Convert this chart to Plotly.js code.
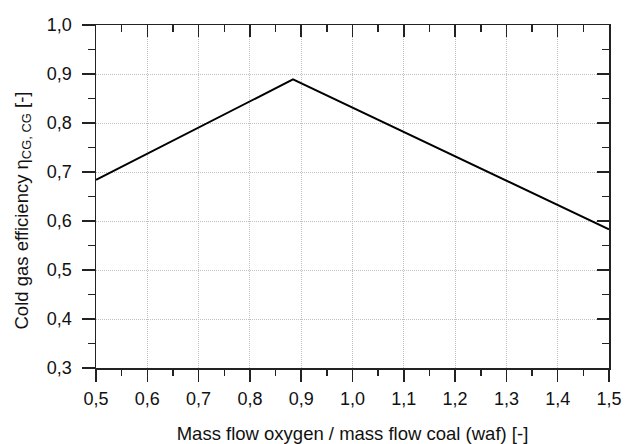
<!DOCTYPE html>
<html>
<head>
<meta charset="utf-8">
<script src="https://cdn.plot.ly/plotly-3.0.1.min.js"></script>
<style>html,body{margin:0;padding:0;background:#fff}#chart{width:625px;height:444px}</style>
</head>
<body>
<div id="chart"></div>
<script>
const massFlowRatio = [0.5, 0.884, 1.5];
const coldGasEfficiency = [0.684, 0.889, 0.583];
const xTickValues = [0.5, 0.6, 0.7, 0.8, 0.9, 1.0, 1.1, 1.2, 1.3, 1.4, 1.5];
const yTickValues = [0.3, 0.4, 0.5, 0.6, 0.7, 0.8, 0.9, 1.0];
const xTitle = 'Mass flow oxygen / mass flow coal (waf) [-]';
const yTitle = 'Cold gas efficiency η<sub>CG, CG</sub> [-]';

const FONT = 'Liberation Sans, Arial, sans-serif';
const AX = '#222';

const traces = [
  {x: massFlowRatio, y: coldGasEfficiency, mode: 'lines', type: 'scatter',
   line: {color: '#000', width: 2}, hoverinfo: 'skip', xaxis: 'x', yaxis: 'y'},
  {x: massFlowRatio, y: coldGasEfficiency, mode: 'lines', type: 'scatter',
   line: {color: 'rgba(0,0,0,0)', width: 0}, hoverinfo: 'skip', xaxis: 'x2', yaxis: 'y2'}
];

const baseX = {range: [xTickValues[0], xTickValues[xTickValues.length - 1]], tickmode: 'linear',
  tick0: xTickValues[0], dtick: 0.1, tickformat: '.1f',
  showline: true, linecolor: AX, linewidth: 1.5, tickcolor: AX, tickwidth: 1.5, zeroline: false};
const baseY = {range: [yTickValues[0], yTickValues[yTickValues.length - 1]], tickmode: 'linear',
  tick0: yTickValues[0], dtick: 0.1, tickformat: '.1f',
  showline: true, linecolor: AX, linewidth: 1.5, tickcolor: AX, tickwidth: 1.5, zeroline: false};

const GRID = {showgrid: true, gridcolor: '#bfbfbf', griddash: '1px,1px', gridwidth: 1};

const layout = {
  width: 625, height: 444,
  margin: {l: 96, r: 16, t: 25, b: 76},
  paper_bgcolor: '#fff', plot_bgcolor: '#fff',
  separators: ',.',
  showlegend: false,
  font: {family: FONT, size: 18, color: '#111'},
  xaxis: Object.assign({}, baseX, GRID, {
    ticks: 'outside', ticklen: 12, ticklabelstandoff: 2,
    minor: {dtick: 0.05, tick0: 0.5, ticks: 'outside', ticklen: 6, tickcolor: AX, tickwidth: 1.5, showgrid: false},
    tickfont: {size: 18},
    title: {text: xTitle, font: {size: 18.5}, standoff: 20}
  }),
  yaxis: Object.assign({}, baseY, GRID, {
    ticks: 'outside', ticklen: 13, ticklabelstandoff: 6,
    minor: {dtick: 0.05, tick0: 0.3, ticks: 'outside', ticklen: 7, tickcolor: AX, tickwidth: 1.5, showgrid: false},
    tickfont: {size: 18}
  }),
  xaxis2: Object.assign({}, baseX, {
    overlaying: 'x', side: 'top', anchor: 'y2', ticks: 'inside', ticklen: 12, showticklabels: false, showgrid: false,
    minor: {dtick: 0.05, tick0: 0.5, ticks: 'inside', ticklen: 7, tickcolor: AX, tickwidth: 1.5, showgrid: false}
  }),
  yaxis2: Object.assign({}, baseY, {
    overlaying: 'y', side: 'right', anchor: 'x2', ticks: 'inside', ticklen: 12, showticklabels: false, showgrid: false,
    minor: {dtick: 0.05, tick0: 0.3, ticks: 'inside', ticklen: 7, tickcolor: AX, tickwidth: 1.5, showgrid: false}
  }),
  annotations: [{
    text: yTitle, textangle: -90, showarrow: false,
    xref: 'paper', yref: 'paper', x: (22 - 96) / 513, y: (368 - 210.5) / 343,
    xanchor: 'center', yanchor: 'middle', font: {family: FONT, size: 18.5, color: '#111'}
  }]
};

Plotly.newPlot('chart', traces, layout, {staticPlot: true, displayModeBar: false});
</script>
</body>
</html>
